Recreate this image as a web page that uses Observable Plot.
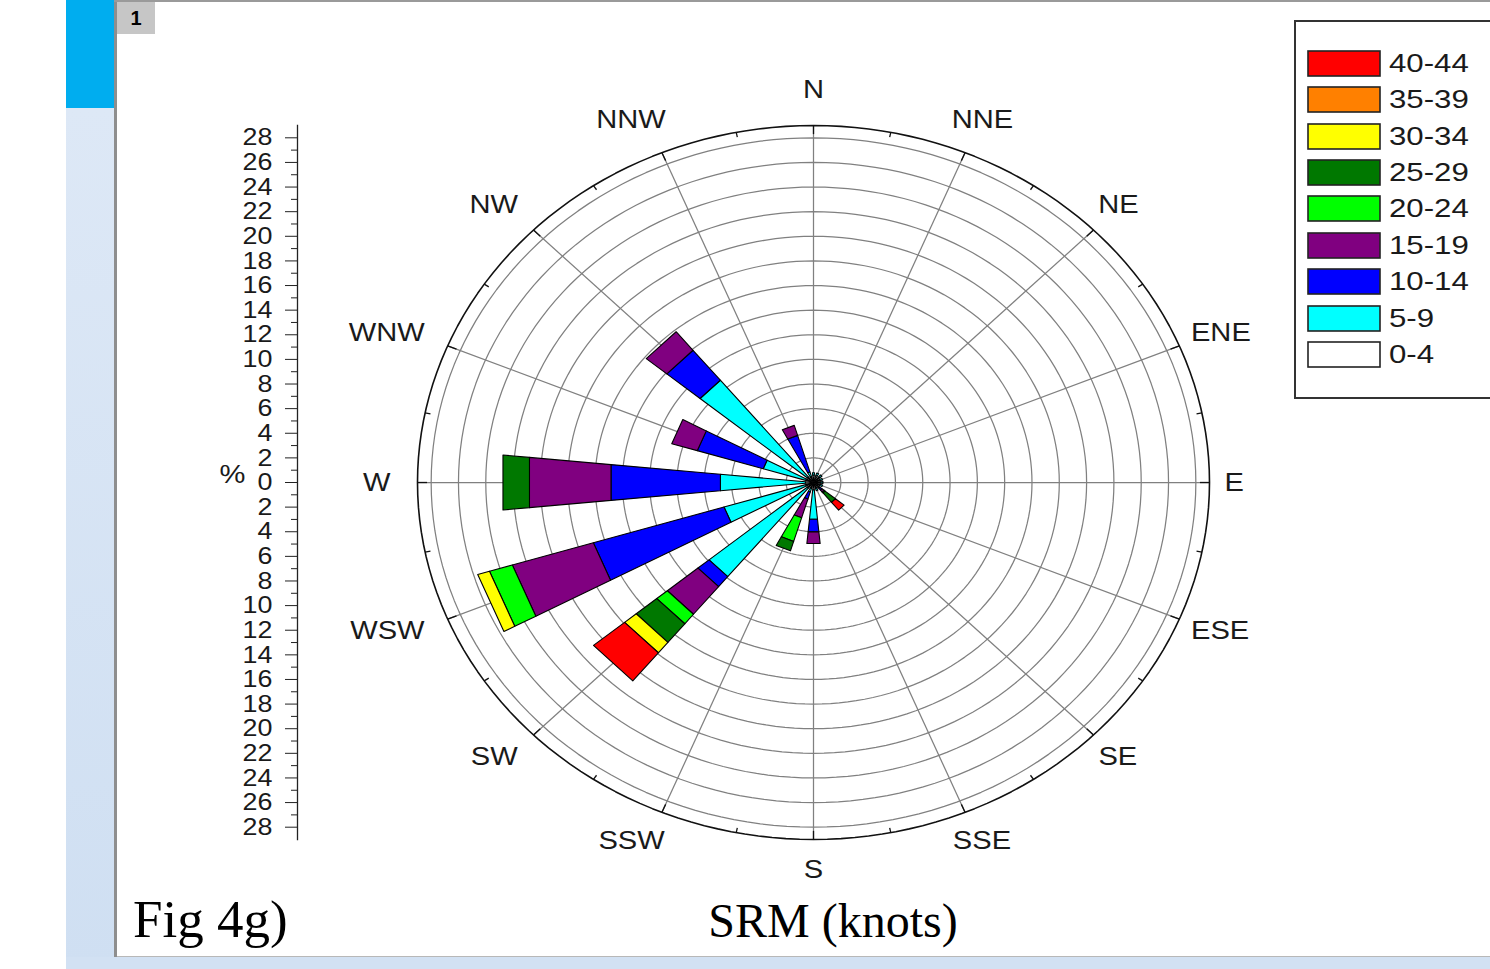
<!DOCTYPE html>
<html><head><meta charset="utf-8">
<script src="https://cdn.jsdelivr.net/npm/d3@7"></script>
<script src="https://cdn.jsdelivr.net/npm/@observablehq/plot@0.6"></script>
<style>
body{margin:0;background:#fff;}
#page{position:relative;width:1490px;height:969px;overflow:hidden;background:#fff;font-family:'Liberation Sans',Arial,sans-serif;}
.abs{position:absolute;}
#chart{position:absolute;left:0;top:0;z-index:2;}
#legend{position:absolute;left:1308px;top:45px;z-index:3;width:180px;}
#legend .lg-swatches{margin:0;font-size:26px;}
#legend .lg-swatch{height:36.45px;padding:0 !important;margin:0;display:flex;align-items:center;}
#legend .lg-swatch svg{margin-right:9px !important;overflow:visible;flex-shrink:0;}
#legend .lg-swatch svg rect{stroke:#222;stroke-width:1.6px;}
#legend .lg-swatch > :not(svg){font:26px 'Liberation Sans',Arial,sans-serif;color:#1a1a1a;transform:scaleX(1.2);transform-origin:0 50%;overflow:visible !important;}
.cap{position:absolute;font-family:'Liberation Serif','Times New Roman',serif;color:#000;white-space:nowrap;z-index:3;}
</style></head>
<body><div id="page">
<div class="abs" style="left:66px;top:0;width:48px;height:108px;background:#00adef;"></div>
<div class="abs" style="left:66px;top:108px;width:48px;height:861px;background:linear-gradient(#dde8f6,#cfdff2);"></div>
<div class="abs" style="left:66px;top:957px;width:1424px;height:12px;background:#d2e1f3;"></div>
<div class="abs" style="left:114px;top:956px;width:1376px;height:1px;background:#b8b8b8;"></div>
<div class="abs" style="left:114px;top:0;width:3px;height:957px;background:#8e8e8e;"></div>
<div class="abs" style="left:114px;top:0;width:1376px;height:2px;background:#9a9a9a;"></div>
<div class="abs" style="left:117px;top:2px;width:38px;height:32px;background:#c6c6c6;font:bold 20px 'Liberation Sans',Arial,sans-serif;line-height:32px;text-align:center;color:#000;">1</div>
<div class="abs" style="left:1294px;top:20px;width:220px;height:375px;border:2px solid #333;z-index:1;"></div>
<div id="chart"></div>
<div id="legend"></div>
<div class="cap" style="left:133px;top:893px;font-size:53px;line-height:53px;">Fig 4g)</div>
<div class="cap" style="left:833px;top:897px;font-size:48px;line-height:48px;transform:translateX(-50%);">SRM (knots)</div>
</div>
<script>
// ---- data ----
const directions = ["N","NNE","NE","ENE","E","ESE","SE","SSE","S","SSW","SW","WSW","W","WNW","NW","NNW"];
const bins = ["0-4","5-9","10-14","15-19","20-24","25-29","30-34","35-39","40-44"];
const binColors = ["#ffffff","#00ffff","#0000ff","#800080","#00ff00","#007800","#ffff00","#ff8000","#ff0000"];
// frequency (%) per speed bin, one value per direction (N ... NNW)
const f0_4   = [0.6,0.6,0.6,0.5,0.5,0.5,0.5,0.5,0.6,0.5,0.6,0.6,0.6,0.6,0.6,0.5];
const f5_9   = [0.2,0.2,0.2,0.2,0.2,0.2,0.1,0.2,2.4,0.3,9.3,6.25,6.25,3.25,10.15,0.4];
const f10_14 = [0,0,0,0,0,0,0.2,0,1.03,0.6,1.05,10.0,8.05,5.05,3.15,3.1];
const f15_19 = [0,0,0,0,0,0,0.2,0,0.95,1.6,2.9,6.2,6.0,1.95,1.95,0.85];
const f20_24 = [0,0,0,0,0,0,0.1,0,0,2.0,1.0,1.75,0,0,0,0];
const f25_29 = [0,0,0,0,0,0,0.98,0,0,0.8,1.95,0,1.95,0,0,0];
const f30_34 = [0,0,0,0,0,0,0,0,0,0,1.1,0.9,0,0,0,0];
const f35_39 = [0,0,0,0,0,0,0,0,0,0,0,0,0,0,0,0];
const f40_44 = [0,0,0,0,0,0,0.82,0,0,0,2.95,0,0,0,0,0];
const radialTicks = [-28,-26,-24,-22,-20,-18,-16,-14,-12,-10,-8,-6,-4,-2,0,2,4,6,8,10,12,14,16,18,20,22,24,26,28];
const ringRadii = [2,4,6,8,10,12,14,16,18,20,22,24,26,28];
const rMax = 29;

// ---- layout ----
const W = 1490, H = 969, mTop = 125, mBottom = 130, xRange = [417, 1209];
const kx = (xRange[1] - xRange[0]) / (2 * rMax);
const ky = (H - mTop - mBottom) / (2 * rMax);
const STRETCH = 1.12;

// ---- geometry helpers ----
const freq = [f0_4,f5_9,f10_14,f15_19,f20_24,f25_29,f30_34,f35_39,f40_44];
const rad = a => a * Math.PI / 180;
const px = (r, a) => r * Math.sin(rad(a));
const py = (r, a) => r * Math.cos(rad(a));
const step = 360 / directions.length;
const half = 5.6;

const wedges = [];
directions.forEach((d, i) => {
  const a = i * step;
  let r0 = 0;
  bins.forEach((b, j) => {
    const v = freq[j][i];
    if (!(v > 0)) return;
    const r1 = r0 + v;
    const id = d + "|" + b;
    [[r0, a - half], [r1, a - half], [r1, a + half], [r0, a + half], [r0, a - half]]
      .forEach(([r, t]) => wedges.push({id, bin: b, x: px(r, t), y: py(r, t)}));
    r0 = r1;
  });
});

const circle = (r) => d3.range(0, 361, 2).map(t => ({r, x: px(r, t), y: py(r, t)}));
const rings = ringRadii.flatMap(circle);
const outer = circle(rMax);
const spokes = directions.map((d, i) => ({a: i * step}));
const edgeTicks = d3.range(0, 360, step / 2).map(a => ({a, major: (a % step) === 0}));

// direction labels: centred near the ray, pushed out by the half-width of the text
const ctx = document.createElement("canvas").getContext("2d");
ctx.font = "26px 'Liberation Sans', Arial, sans-serif";
const labels = directions.map((d, i) => {
  const a = i * step;
  const ex = rMax * kx * Math.sin(rad(a)), ey = rMax * ky * Math.cos(rad(a));
  const ux = Math.sin(rad(a));
  const w = ctx.measureText(d).width * STRETCH / 2;
  const lx = ex + ux * (15 + w), ly = ey * (ey > 0 ? 1.10 : 1.085);
  return {name: d, a, x: lx / kx, y: ly / ky};
});
const lab = (filter, o) => Plot.text(labels.filter(filter), {x: "x", y: "y", text: "name", fontSize: 26, fill: "#1a1a1a", lineAnchor: "middle", ...o});

const chart = Plot.plot({
  width: W, height: H,
  marginLeft: 297, marginRight: 0, marginTop: mTop, marginBottom: mBottom,
  style: {background: "transparent", fontFamily: "'Liberation Sans', Arial, sans-serif", fontSize: "24px", color: "#1a1a1a"},
  x: {domain: [-rMax, rMax], range: xRange, axis: null},
  y: {domain: [-rMax, rMax], axis: null},
  color: {type: "ordinal", domain: bins.slice().reverse(), range: binColors.slice().reverse()},
  marks: [
    Plot.line(rings, {x: "x", y: "y", z: "r", stroke: "#808080", strokeWidth: 1.25}),
    Plot.link(spokes, {x1: () => 0, y1: () => 0, x2: d => px(rMax, d.a), y2: d => py(rMax, d.a), stroke: "#808080", strokeWidth: 1.25}),
    Plot.line(outer, {x: "x", y: "y", stroke: "#111", strokeWidth: 1.6}),
    Plot.link(edgeTicks, {x1: d => px(d.major ? 28.3 : 28.6, d.a), y1: d => py(d.major ? 28.3 : 28.6, d.a), x2: d => px(rMax, d.a), y2: d => py(rMax, d.a), stroke: "#111", strokeWidth: 1.3}),
    Plot.line(wedges, {x: "x", y: "y", z: "id", fill: "bin", stroke: "#000", strokeWidth: 1.1, curve: "linear"}),
    Plot.frame({anchor: "left", stroke: "#222", strokeWidth: 1.3}),
    Plot.axisY({ticks: d3.range(-27, 28, 2), tickSize: 6, tickFormat: () => "", label: null, stroke: "#222"}),
    Plot.axisY({ticks: radialTicks, tickSize: 12, tickPadding: 13, tickFormat: d => Math.abs(d), label: null, fontSize: 24, stroke: "#222", fill: "#1a1a1a"}),
    Plot.text(["%"], {frameAnchor: "left", dx: -78, dy: -8, fontSize: 26, fill: "#1a1a1a"}),
    lab(l => l.a <= 180, {}),
    lab(l => l.a > 180, {dx: -12})
  ]
});

// horizontal stretch of the Origin-style text
chart.querySelectorAll("text").forEach(t => {
  const tr = t.getAttribute("transform") || "";
  const x = t.getAttribute("x");
  if (x != null && !isNaN(+x)) t.setAttribute("x", (+x) / STRETCH);
  t.setAttribute("transform", `${tr} scale(${STRETCH},1)`);
});
document.getElementById("chart").appendChild(chart);

const legend = chart.legend("color", {legend: "swatches", columns: 1, swatchWidth: 72, swatchHeight: 25, className: "lg"});
document.getElementById("legend").appendChild(legend);
</script>
</body></html>
